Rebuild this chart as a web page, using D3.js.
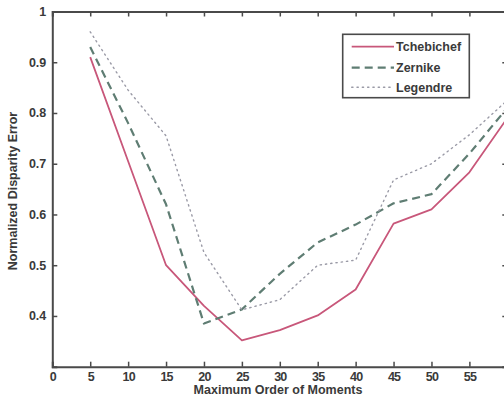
<!DOCTYPE html>
<html><head><meta charset="utf-8">
<script src="https://cdn.jsdelivr.net/npm/d3@7"></script>
<style>
html,body{margin:0;padding:0;background:#fff;}
svg{display:block;}
text{font-family:"Liberation Sans",Arial,sans-serif;font-weight:bold;fill:#3a3a3a;}
</style></head>
<body>
<svg id="chart" width="504" height="407"></svg>
<script>
const orders = [5,10,15,20,25,30,35,40,45,50,55,60];
const tchebichef = [0.91,0.705,0.50,0.42,0.352,0.372,0.401,0.452,0.582,0.61,0.683,0.79];
const zernike    = [0.93,0.78,0.62,0.385,0.413,0.483,0.545,0.58,0.622,0.64,0.72,0.81];
const legendre   = [0.96,0.845,0.755,0.525,0.412,0.432,0.50,0.51,0.668,0.70,0.757,0.825];
const seriesNames = ["Tchebichef","Zernike","Legendre"];
const xTicks = [0,5,10,15,20,25,30,35,40,45,50,55];
const yTicks = [0.4,0.5,0.6,0.7,0.8,0.9,1];

const svg = d3.select("#chart");
const L = 52.3, R = 507.3, T = 11.5, B = 366.7;
const x = d3.scaleLinear().domain([0,60]).range([L,R]);
const y = d3.scaleLinear().domain([0.3,1]).range([B,T]);

const axisColor = "#4a4a4a";
const styles = [
  {color:"#c8577a", dash:null, width:1.8},
  {color:"#5f7d73", dash:"8,5", width:2.2},
  {color:"#9a9aa6", dash:"1.3,4", width:1.4}
];
const data = [tchebichef, zernike, legendre];

// lines
const line = d3.line().x((d,i)=>x(orders[i])).y(d=>y(d));
svg.append("clipPath").attr("id","c").append("rect")
  .attr("x",L).attr("y",T).attr("width",R-L).attr("height",B-T);
const g = svg.append("g").attr("clip-path","url(#c)");
data.forEach((vals,k)=>{
  g.append("path").datum(vals).attr("d",line)
    .attr("fill","none").attr("stroke",styles[k].color)
    .attr("stroke-width",styles[k].width)
    .attr("stroke-dasharray",styles[k].dash)
    .attr("stroke-linecap", k===2 ? "round" : "butt")
    .attr("stroke-linejoin","round");
});

// axes (MATLAB style, ticks inward)
const fmt = d => d===1 ? "1" : d3.format(".1f")(d);
const xb = svg.append("g").attr("transform",`translate(0,${B})`)
  .call(d3.axisBottom(x).tickValues(xTicks).tickSize(-5).tickPadding(5).tickFormat(d3.format("d")));
const xt = svg.append("g").attr("transform",`translate(0,${T})`)
  .call(d3.axisTop(x).tickValues(xTicks).tickSize(-5).tickFormat(""));
const yl = svg.append("g").attr("transform",`translate(${L},0)`)
  .call(d3.axisLeft(y).tickValues(yTicks).tickSize(-5).tickPadding(6).tickFormat(fmt));
const yr = svg.append("g").attr("transform",`translate(${R},0)`)
  .call(d3.axisRight(y).tickValues(yTicks).tickSize(-5).tickFormat(""));
[xb,xt,yl,yr].forEach(a=>{
  a.select(".domain").attr("stroke",axisColor).attr("stroke-width",2);
  a.selectAll(".tick line").attr("stroke",axisColor).attr("stroke-width",1.5);
  a.selectAll("text").attr("font-size",12.5).attr("font-family","Liberation Sans, Arial, sans-serif")
    .attr("font-weight","bold").attr("fill","#3a3a3a");
});
xb.selectAll("text").attr("letter-spacing",-0.8);

// axis titles
svg.append("text").attr("x",278).attr("y",394).attr("text-anchor","middle")
  .attr("font-size",12.5).text("Maximum Order of Moments");
svg.append("text").attr("transform",`translate(17,191) rotate(-90)`).attr("text-anchor","middle")
  .attr("font-size",12.5).text("Normalized Disparity Error");

// legend
const lg = svg.append("g");
lg.append("rect").attr("x",342.7).attr("y",34.3).attr("width",126.6).attr("height",63.4)
  .attr("fill","#fff").attr("stroke",axisColor).attr("stroke-width",1.6);
const ly = [46.7,67.7,87.3];
seriesNames.forEach((name,k)=>{
  lg.append("line").attr("x1",351.7).attr("x2",394).attr("y1",ly[k]).attr("y2",ly[k])
    .attr("stroke",styles[k].color).attr("stroke-width",styles[k].width)
    .attr("stroke-dasharray",styles[k].dash).attr("stroke-linecap", k===2?"round":"butt");
  lg.append("text").attr("x",396).attr("y",ly[k]+4.5).attr("font-size",12.5).text(name);
});
</script>
</body></html>
